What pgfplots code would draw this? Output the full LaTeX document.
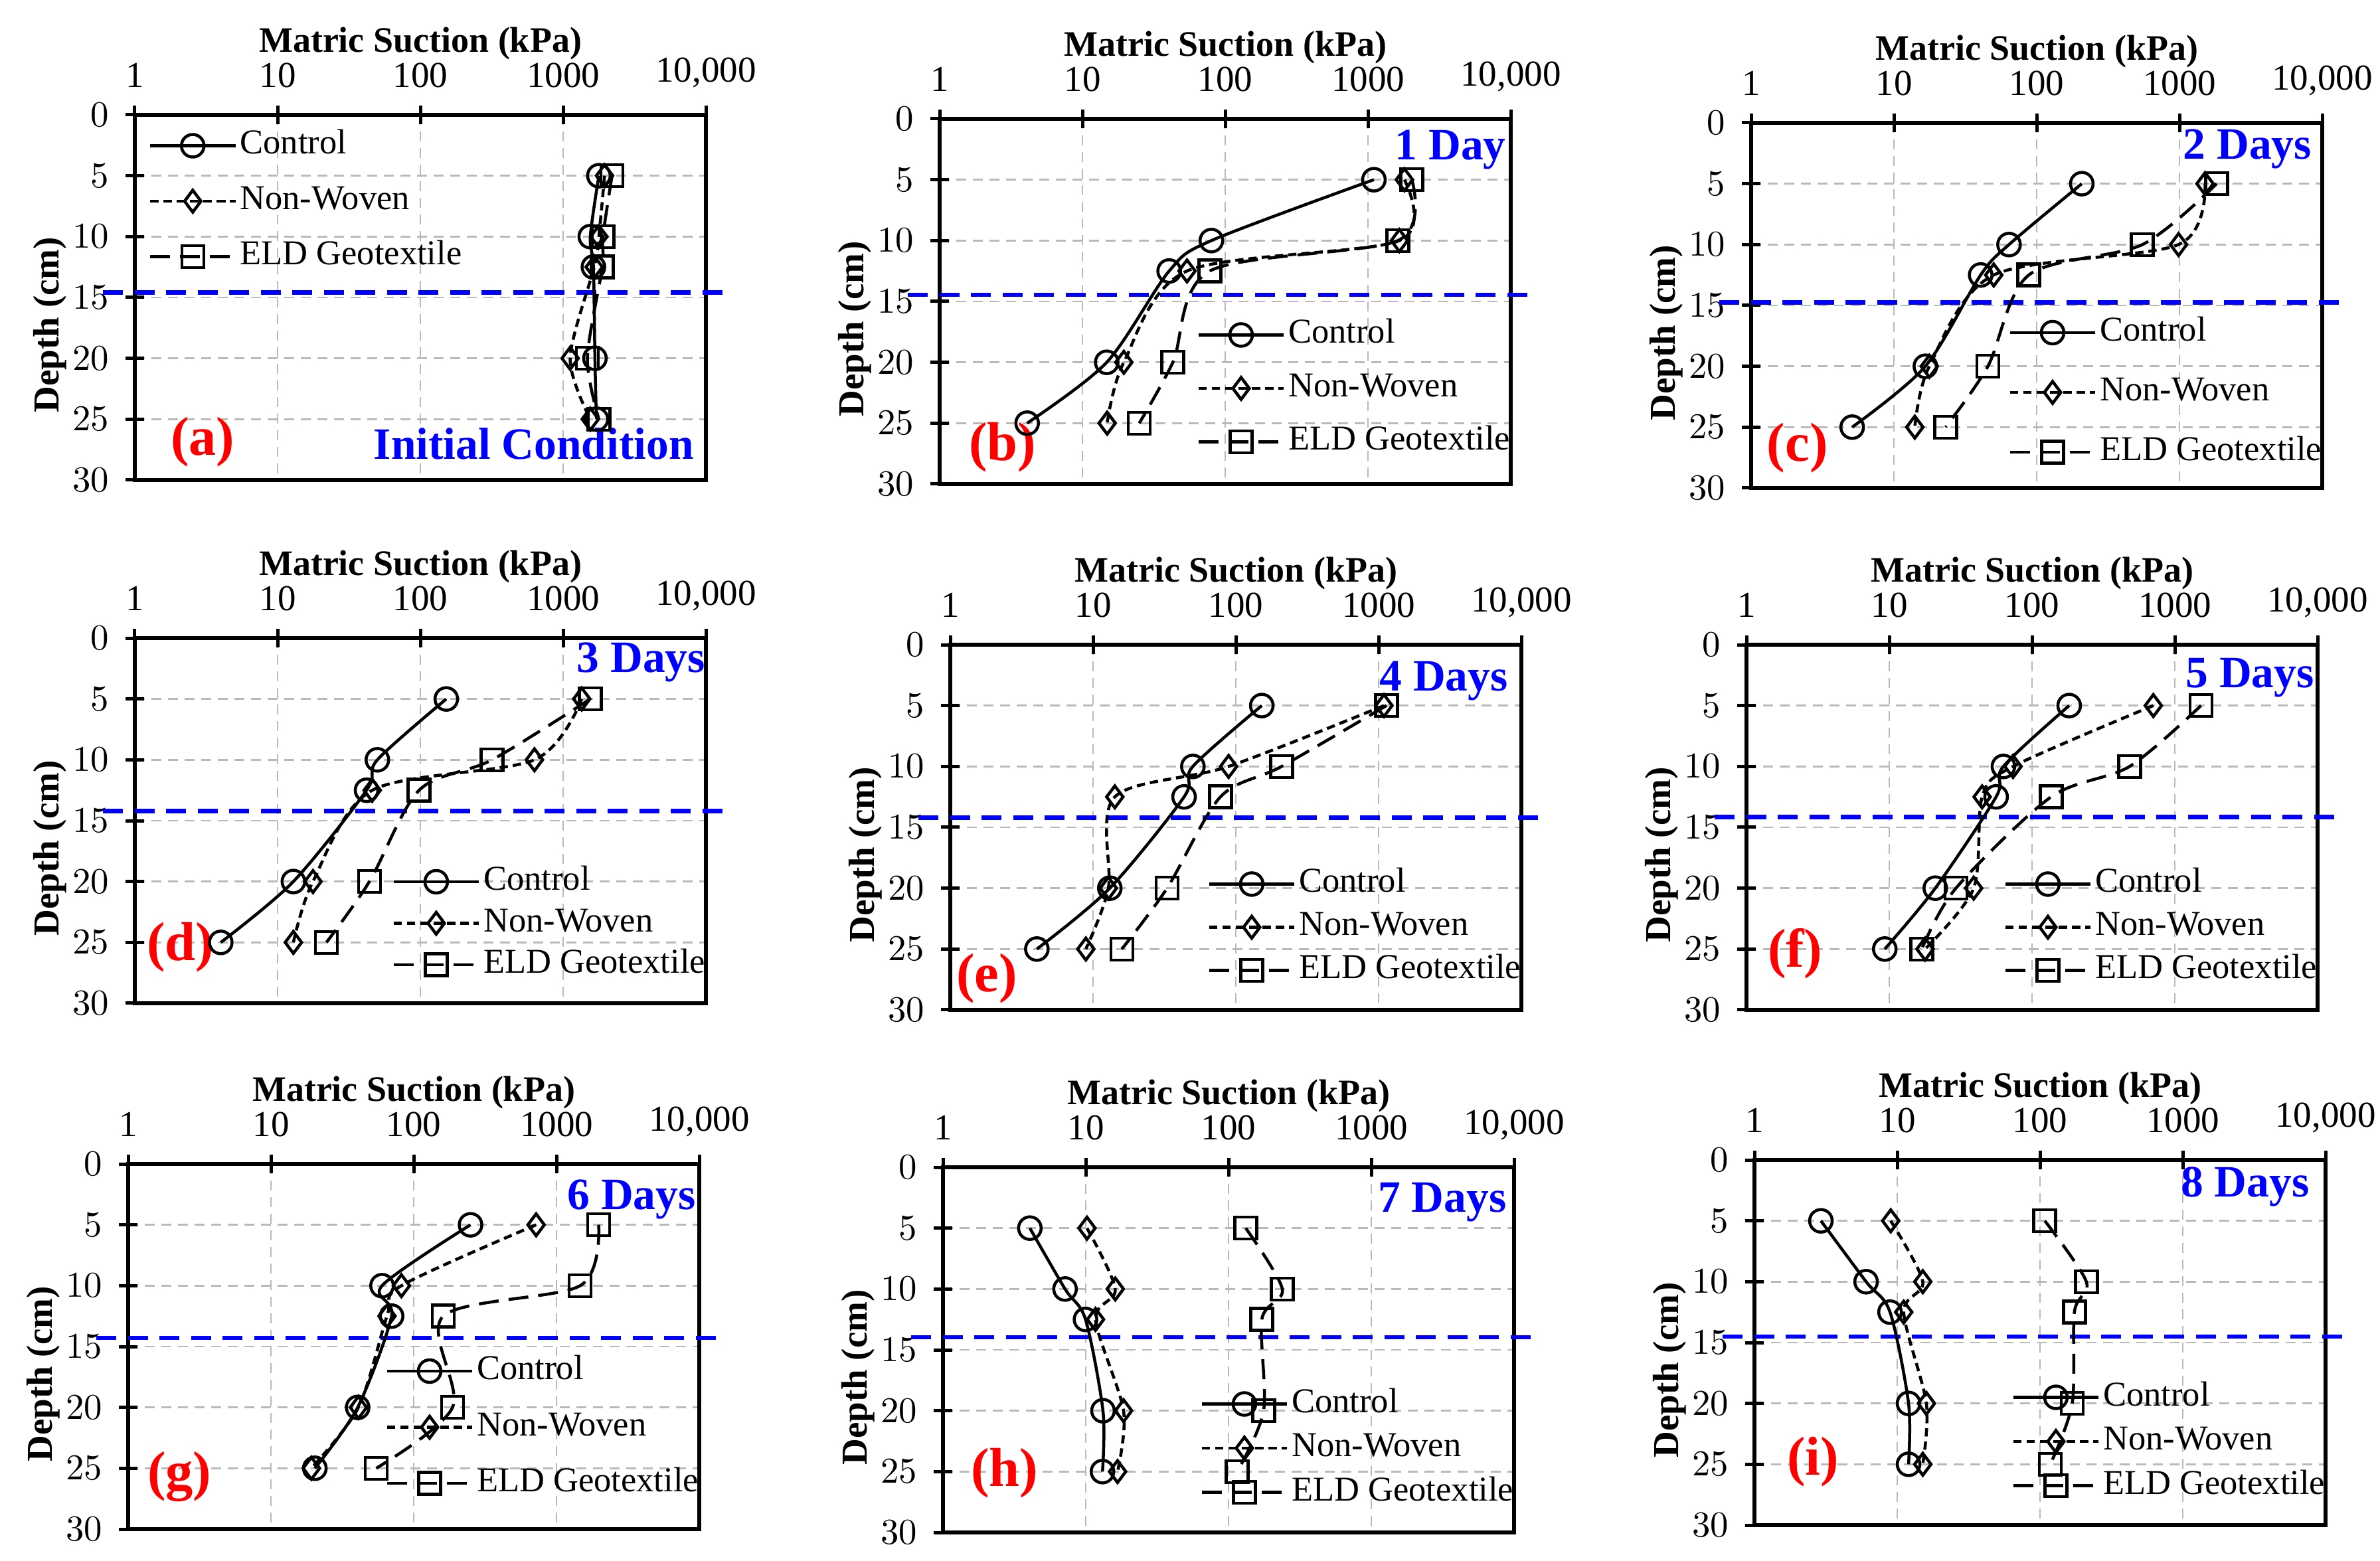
\documentclass[border=0pt]{standalone}
\usepackage{fontspec}
\setmainfont{Liberation Serif}
\usepackage{pgfplots}
\pgfplotsset{compat=1.18}

\definecolor{pblue}{RGB}{0,0,255}
\definecolor{pred}{RGB}{255,0,0}
\definecolor{gridgray}{RGB}{185,185,185}

\pgfplotsset{
  panel/.style={
    scale only axis, width=172pt, height=110pt,
    xmin=1, xmax=10000,
    xtick={1,10,100,1000,10000},
    xticklabels={1,10,100,1000,{10,000}},
    xminorticks=false,
    ymin=0, ymax=30, y dir=reverse, ytick={0,5,...,30},
    xtick pos=upper, xticklabel pos=upper, ytick pos=left,
    tick align=center, major tick length=5.5pt,
    every tick/.style={black, line width=1pt},
    axis line style={line width=1.1pt},
    grid=major,
    major grid style={gridgray, dash pattern=on 3pt off 2pt, line width=0.5pt},
    xlabel={\bfseries Matric Suction (kPa)},
    ylabel={\bfseries Depth (cm)},
    xlabel style={font=\fontsize{10.8}{12}\selectfont, yshift=-7.5pt},
    ylabel style={font=\fontsize{11}{12}\selectfont, at={(ticklabel cs:0.425)}, yshift=-5pt},
    ticklabel style={font=\fontsize{11}{12}\selectfont},
    xticklabel style={yshift=2pt},
    yticklabel style={xshift=-1.5pt},
    clip=false,
    legend cell align=left,
    legend style={draw=none, fill=none, inner sep=0pt,
      font=\fontsize{10.5}{12}\selectfont,
      nodes={inner sep=1pt, text height=7pt, text depth=2pt},
      at={(1,0)}, anchor=south east, xshift=1pt},
    legend image code/.code={\draw[mark repeat=2,mark phase=2,##1]
      plot coordinates {(0pt,0pt) (12.8pt,0pt) (25.6pt,0pt)};},
  },
  ctrl/.style={black, line width=0.9pt, smooth, mark=o, mark size=3.4pt, mark options={solid}},
  nw/.style={black, line width=0.9pt, smooth, dash pattern=on 2.5pt off 1.5pt, mark=diamond, mark size=3.3pt, mark options={solid}},
  eld/.style={black, line width=0.9pt, smooth, dash pattern=on 6pt off 3pt, mark=square, mark size=3.3pt, mark options={solid}},
  wt/.style={pblue, line width=1.3pt, dash pattern=on 6pt off 3.5pt, forget plot},
}
\tikzset{
  plabel/.style={text=pred, font=\fontsize{16.5}{18}\selectfont\bfseries, inner sep=0pt},
  dlabel/.style={text=pblue, font=\fontsize{13.5}{15}\selectfont\bfseries, inner sep=0pt, anchor=east},
}

\begin{document}
\begin{tikzpicture}
\useasboundingbox (0,0) rectangle (716.8pt,-470.2pt);

% (a) initial condition
\begin{axis}[xmode=log, panel, at={(40.6pt,-34.6pt)}, anchor=north west,
  legend style={at={(0,1)}, anchor=north west, xshift=3pt, yshift=-3.6pt, row sep=5.7pt}]
\addplot[wt] coordinates {(0.6,14.6) (13000,14.6)};
\addplot[ctrl] coordinates {(1780,5) (1550,10) (1630,12.5) (1670,20) (1710,25)};
\addplot[nw] coordinates {(1950,5) (1780,10) (1650,12.5) (1120,20) (1550,25)};
\addplot[eld] coordinates {(2200,5) (1900,10) (1880,12.5) (1480,20) (1780,25)};
\legend{Control, Non-Woven, ELD Geotextile}
\node[plabel] at (axis cs:2.99,26.9) {(a)};
\node[dlabel] at (axis cs:8318,27.0) {Initial Condition};
\end{axis}

% (b) 1 day
\begin{axis}[xmode=log, panel, at={(283pt,-35.8pt)}, anchor=north west,
  legend style={yshift=7pt, row sep=5.1pt}]
\addplot[wt] coordinates {(0.6,14.46) (13000,14.46)};
\addplot[ctrl] coordinates {(1100,5) (80,10) (40.5,12.5) (14.8,20) (4.1,25)};
\addplot[nw] coordinates {(1800,5) (1660,10) (54,12.5) (19.5,20) (14.9,25)};
\addplot[eld] coordinates {(2030,5) (1620,10) (78,12.5) (43,20) (25,25)};
\legend{Control, Non-Woven, ELD Geotextile}
\node[plabel] at (axis cs:2.75,27.0) {(b)};
\node[dlabel] at (axis cs:9333,2.56) {1 Day};
\end{axis}

% (c) 2 days
\begin{axis}[xmode=log, panel, at={(527.4pt,-37pt)}, anchor=north west,
  legend style={yshift=5.1pt, row sep=7pt}]
\addplot[wt] coordinates {(0.6,14.75) (13000,14.75)};
\addplot[ctrl] coordinates {(207,5) (64,10) (40.5,12.5) (16.6,20) (5.1,25)};
\addplot[nw] coordinates {(1510,5) (985,10) (50,12.5) (17.7,20) (14.0,25)};
\addplot[eld] coordinates {(1820,5) (550,10) (88,12.5) (45.5,20) (23,25)};
\legend{Control, Non-Woven, ELD Geotextile}
\node[plabel] at (axis cs:2.11,26.7) {(c)};
\node[dlabel] at (axis cs:8511,2.13) {2 Days};
\end{axis}

% (d) 3 days
\begin{axis}[xmode=log, panel, at={(40.6pt,-192.2pt)}, anchor=north west,
  legend style={yshift=5.9pt, row sep=1.5pt}]
\addplot[wt] coordinates {(0.6,14.2) (13000,14.2)};
\addplot[ctrl] coordinates {(152,5) (50,10) (42,12.5) (12.9,20) (4.0,25)};
\addplot[nw] coordinates {(1350,5) (630,10) (46,12.5) (17.7,20) (12.9,25)};
\addplot[eld] coordinates {(1550,5) (318,10) (98,12.5) (44,20) (22,25)};
\legend{Control, Non-Woven, ELD Geotextile}
\node[plabel] at (axis cs:2.09,25.4) {(d)};
\node[dlabel] at (axis cs:10000,2.0) {3 Days};
\end{axis}

% (e) 4 days
\begin{axis}[xmode=log, panel, at={(286.2pt,-194.2pt)}, anchor=north west,
  legend style={yshift=6.2pt, row sep=2pt}]
\addplot[wt] coordinates {(0.6,14.2) (13000,14.2)};
\addplot[ctrl] coordinates {(152,5) (50,10) (43.4,12.5) (13.1,20) (4.04,25)};
\addplot[nw] coordinates {(1090,5) (89,10) (14.2,12.5) (12.8,20) (8.9,25)};
\addplot[eld] coordinates {(1135,5) (209,10) (78,12.5) (33,20) (15.9,25)};
\legend{Control, Non-Woven, ELD Geotextile}
\node[plabel] at (axis cs:1.80,27.4) {(e)};
\node[dlabel] at (axis cs:8128,3.0) {4 Days};
\end{axis}

% (f) 5 days
\begin{axis}[xmode=log, panel, at={(526pt,-194.2pt)}, anchor=north west,
  legend style={yshift=6.2pt, row sep=2pt}]
\addplot[wt] coordinates {(0.6,14.15) (13000,14.15)};
\addplot[ctrl] coordinates {(182,5) (63,10) (56,12.5) (21,20) (9.3,25)};
\addplot[nw] coordinates {(707,5) (73.6,10) (44.7,12.5) (39,20) (17.8,25)};
\addplot[eld] coordinates {(1525,5) (482,10) (136,12.5) (29.3,20) (16.9,25)};
\legend{Control, Non-Woven, ELD Geotextile}
\node[plabel] at (axis cs:2.19,25.4) {(f)};
\node[dlabel] at (axis cs:9550,2.7) {5 Days};
\end{axis}

% (g) 6 days
\begin{axis}[xmode=log, panel, at={(38.6pt,-350.6pt)}, anchor=north west,
  legend style={yshift=8.1pt, row sep=5.9pt}]
\addplot[wt] coordinates {(0.6,14.3) (13000,14.3)};
\addplot[ctrl] coordinates {(250,5) (60,10) (70,12.5) (40.5,20) (20.3,25)};
\addplot[nw] coordinates {(720,5) (82,10) (65,12.5) (41,20) (19.2,25)};
\addplot[eld] coordinates {(1975,5) (1465,10) (161,12.5) (187,20) (54.6,25)};
\legend{Control, Non-Woven, ELD Geotextile}
\node[plabel] at (axis cs:2.29,25.7) {(g)};
\node[dlabel] at (axis cs:9550,2.9) {6 Days};
\end{axis}

% (h) 7 days
\begin{axis}[xmode=log, panel, at={(284pt,-351.6pt)}, anchor=north west,
  legend style={yshift=6.4pt, row sep=2.3pt}]
\addplot[wt] coordinates {(0.6,13.97) (13000,13.97)};
\addplot[ctrl] coordinates {(4.06,5) (7.16,10) (9.96,12.5) (13.2,20) (13.1,25)};
\addplot[nw] coordinates {(10.2,5) (16.1,10) (11.7,12.5) (18.4,20) (16.7,25)};
\addplot[eld] coordinates {(132,5) (238,10) (171,12.5) (176,20) (115,25)};
\legend{Control, Non-Woven, ELD Geotextile}
\node[plabel] at (axis cs:2.69,25.1) {(h)};
\node[dlabel] at (axis cs:8913,2.9) {7 Days};
\end{axis}

% (i) 8 days
\begin{axis}[xmode=log, panel, at={(528.4pt,-349.4pt)}, anchor=north west,
  legend style={yshift=6.2pt, row sep=2.3pt}]
\addplot[wt] coordinates {(0.6,14.5) (13000,14.5)};
\addplot[ctrl] coordinates {(2.92,5) (6.05,10) (8.9,12.5) (12.0,20) (12.0,25)};
\addplot[nw] coordinates {(9.0,5) (15.1,10) (11.1,12.5) (16.0,20) (15.1,25)};
\addplot[eld] coordinates {(108,5) (211,10) (174,12.5) (168,20) (118,25)};
\legend{Control, Non-Woven, ELD Geotextile}
\node[plabel] at (axis cs:2.57,24.8) {(i)};
\node[dlabel] at (axis cs:7762,2.2) {8 Days};
\end{axis}

\end{tikzpicture}
\end{document}
